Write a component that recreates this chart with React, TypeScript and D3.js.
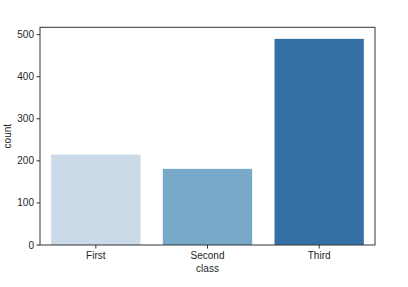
import React from "react";
import * as d3 from "d3";

const categories = ["First", "Second", "Third"];
const counts = [215, 181, 490];
const colors = ["#cbdae8", "#79a9c8", "#3470a3"];
const yTicks = [0, 100, 200, 300, 400, 500];
const yMax = 517.5;

export default function App() {
  const W = 408, H = 287;
  const m = { left: 40, right: 33, top: 27.3, bottom: 42 };
  const x = d3.scaleBand<string>().domain(categories).range([m.left, W - m.right]).paddingInner(0.2).paddingOuter(0.1);
  const y = d3.scaleLinear().domain([0, yMax]).range([H - m.bottom, m.top]);
  const font = "'Liberation Sans', Arial, sans-serif";
  const tc = "#262626";
  return (
    <svg width={W} height={H} style={{ position: "absolute", left: 0, top: 0, background: "#fff" }} fontFamily={font}>
      {categories.map((c, i) => (
        <rect key={c} x={x(c)} width={x.bandwidth()} y={y(counts[i])} height={y(0) - y(counts[i])} fill={colors[i]} />
      ))}
      <rect x={m.left} y={m.top} width={W - m.left - m.right} height={H - m.top - m.bottom} fill="none" stroke="#333" strokeWidth={1} />
      {yTicks.map(t => (
        <g key={t}>
          <line x1={m.left - 3.5} x2={m.left} y1={y(t)} y2={y(t)} stroke="#333" />
          <text x={m.left - 6} y={y(t)} dy="0.35em" textAnchor="end" fontSize={10} fill={tc}>{t}</text>
        </g>
      ))}
      {categories.map(c => (
        <g key={c}>
          <line x1={x(c)! + x.bandwidth() / 2} x2={x(c)! + x.bandwidth() / 2} y1={y(0)} y2={y(0) + 3.5} stroke="#333" />
          <text x={x(c)! + x.bandwidth() / 2} y={y(0) + 14} textAnchor="middle" fontSize={10} fill={tc}>{c}</text>
        </g>
      ))}
      <text x={(m.left + W - m.right) / 2} y={y(0) + 27} textAnchor="middle" fontSize={10} fill={tc}>class</text>
      <text transform={`translate(11,${(m.top + H - m.bottom) / 2}) rotate(-90)`} textAnchor="middle" fontSize={10} fill={tc}>count</text>
    </svg>
  );
}
